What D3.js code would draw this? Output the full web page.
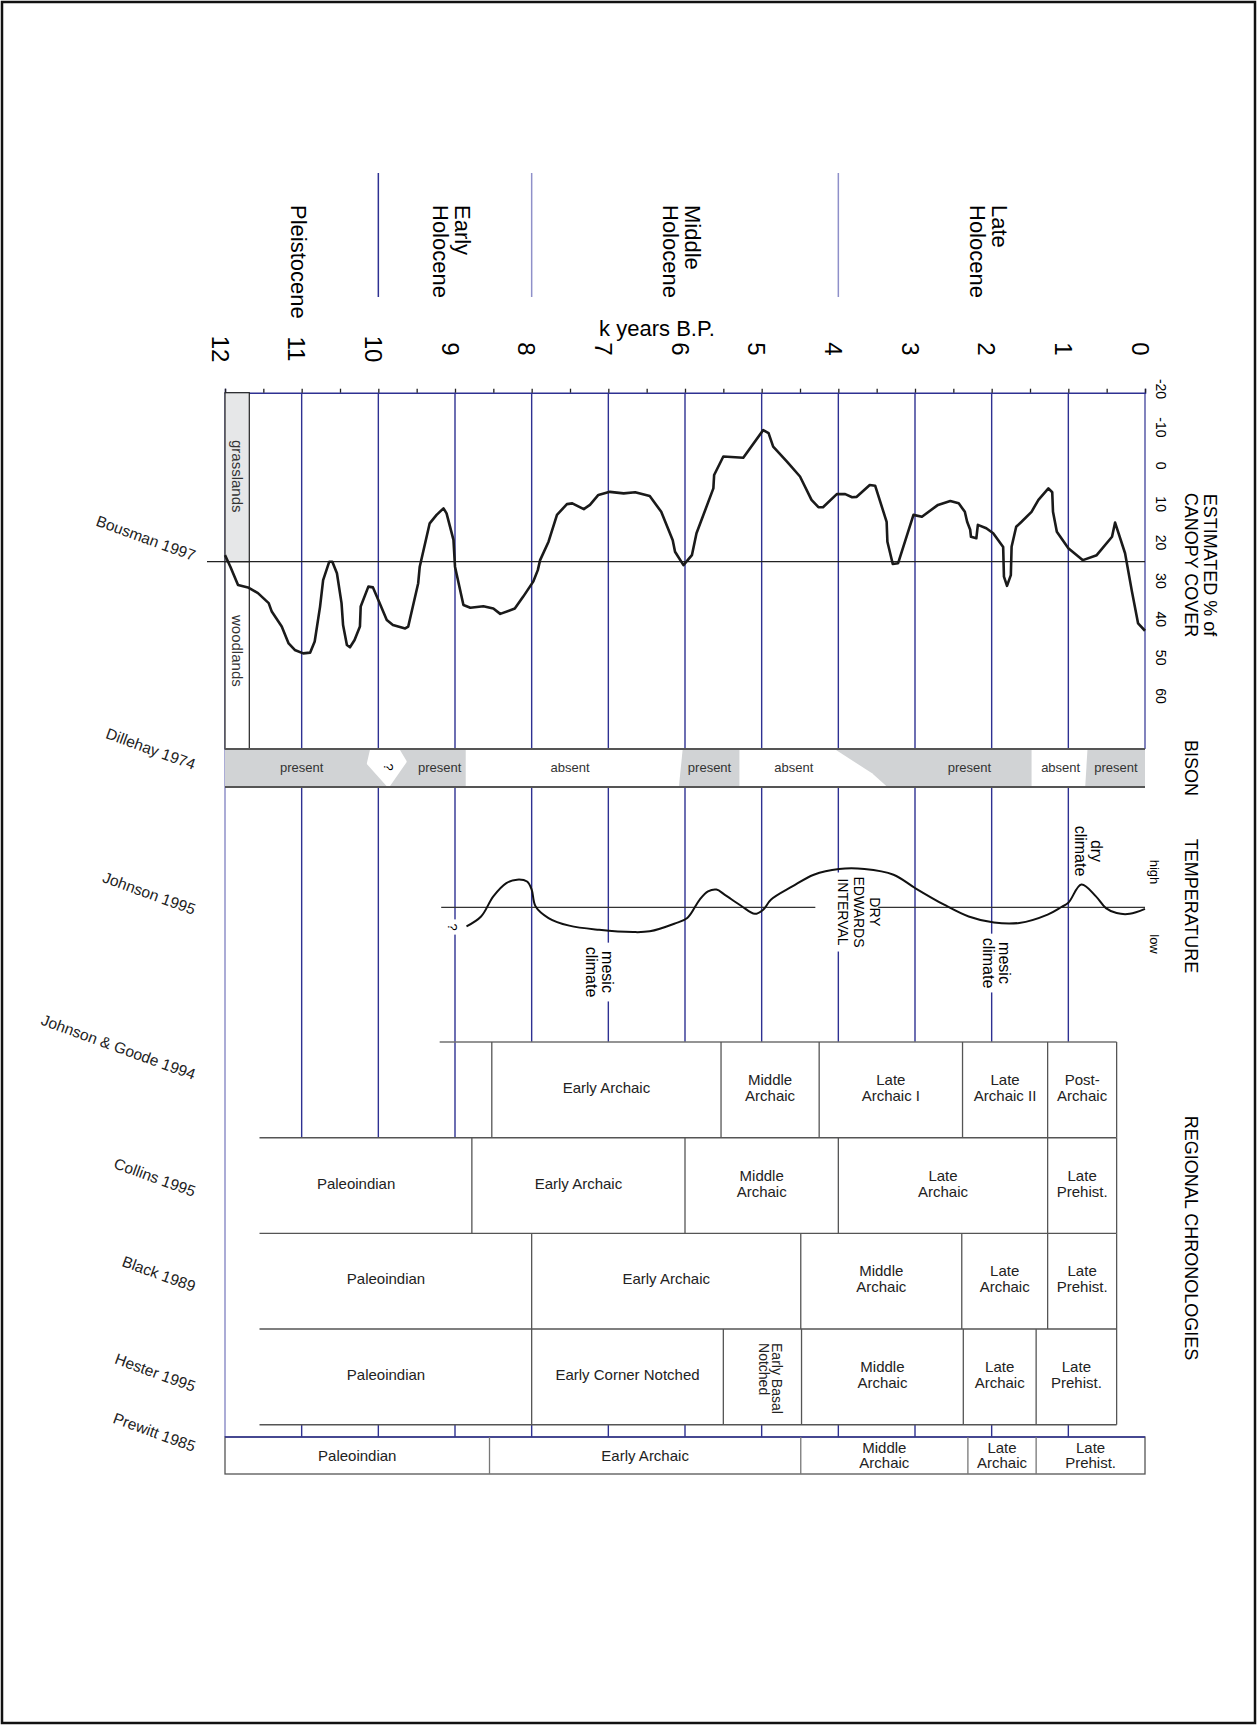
<!DOCTYPE html>
<html>
<head>
<meta charset="utf-8">
<script src="https://cdn.jsdelivr.net/npm/d3@7"></script>
<style>
  body { margin: 0; background: #fff; }
  svg { display: block; font-family: "Liberation Sans", Arial, sans-serif; }
</style>
</head>
<body>
<div id="chart"></div>
<script>
// ---- data ----
const periods = ["Pleistocene", "Early\nHolocene", "Middle\nHolocene", "Late\nHolocene"];
const periodBounds = [12, 10, 8, 4, 0];
const yearLabels = d3.range(0, 13);
const canopyTicks = [-20, -10, 0, 10, 20, 30, 40, 50, 60];

// Bousman 1997, estimated % canopy cover
const canopyYears = [12.0, 11.93, 11.83, 11.70, 11.57, 11.43, 11.39, 11.26, 11.17, 11.09, 10.98, 10.89, 10.83, 10.76, 10.72, 10.64, 10.60, 10.54, 10.48, 10.46, 10.41, 10.37, 10.31, 10.24, 10.23, 10.13, 10.07, 10.00, 9.89, 9.81, 9.65, 9.61, 9.48, 9.46, 9.33, 9.24, 9.15, 9.11, 9.02, 9.00, 8.89, 8.80, 8.63, 8.50, 8.41, 8.22, 8.11, 7.98, 7.92, 7.89, 7.78, 7.67, 7.54, 7.47, 7.32, 7.24, 7.13, 6.98, 6.80, 6.65, 6.46, 6.31, 6.16, 6.13, 6.02, 5.91, 5.85, 5.63, 5.62, 5.50, 5.24, 4.98, 4.91, 4.85, 4.67, 4.50, 4.35, 4.26, 4.20, 4.02, 3.91, 3.82, 3.76, 3.59, 3.52, 3.37, 3.36, 3.29, 3.22, 3.02, 2.91, 2.70, 2.54, 2.43, 2.35, 2.32, 2.28, 2.27, 2.20, 2.18, 2.07, 1.98, 1.85, 1.84, 1.80, 1.75, 1.74, 1.68, 1.61, 1.48, 1.39, 1.26, 1.21, 1.20, 1.15, 1.00, 0.81, 0.63, 0.43, 0.39, 0.26, 0.17, 0.09, 0.00];
const canopyValues = [23.3, 26.3, 31.1, 31.7, 33.2, 35.8, 38.0, 41.9, 46.3, 48.0, 48.9, 48.7, 45.8, 36.7, 29.8, 25.0, 25.0, 28.0, 35.8, 41.5, 46.7, 47.3, 45.4, 41.9, 36.7, 31.5, 31.7, 35.0, 40.2, 41.5, 42.4, 41.9, 30.6, 26.3, 15.0, 12.8, 11.1, 12.4, 19.3, 26.3, 36.3, 37.0, 36.6, 37.2, 38.6, 37.2, 34.1, 30.2, 27.2, 24.6, 19.8, 12.8, 10.0, 9.8, 11.3, 10.2, 7.6, 6.8, 7.2, 6.9, 7.9, 12.0, 19.4, 22.4, 25.9, 23.3, 17.6, 5.9, 2.4, -2.4, -2.1, -9.3, -8.5, -5.0, -1.1, 2.8, 8.9, 10.8, 10.8, 7.4, 7.4, 8.2, 8.1, 5.0, 5.2, 14.6, 19.8, 25.6, 25.4, 12.8, 13.3, 10.2, 9.2, 9.8, 12.0, 14.6, 16.7, 18.5, 18.9, 15.4, 16.3, 17.6, 21.2, 28.9, 31.3, 28.5, 21.1, 15.9, 14.6, 12.0, 8.9, 5.9, 6.9, 12.0, 17.2, 21.5, 24.6, 23.3, 18.5, 14.8, 22.8, 32.8, 41.1, 43.0];

// Dillehay 1974, bison
const bisonLabels = ["present", "present", "absent", "present", "absent", "present", "absent", "present"];
const bisonLabelYears = [11.0, 9.2, 7.5, 5.68, 4.58, 2.29, 1.1, 0.38];
// absent zones: [year, fraction of band depth]
const bisonAbsent = [
  [[8.86, 0], [6.03, 0], [6.08, 1], [8.86, 1]],
  [[5.29, 0], [4.05, 0], [3.56, 0.64], [3.36, 1], [5.29, 1]],
  [[1.48, 0], [0.75, 0], [0.78, 1], [1.48, 1]]
];
const bisonUnknown = [[10.09, 0.03], [9.74, 0.03], [9.65, 0.33], [9.87, 0.97], [10.13, 0.38]];

// Johnson 1995, temperature (+1 high, -1 low)
const tempYears = [8.85, 8.66, 8.50, 8.33, 8.19, 8.06, 8.00, 7.95, 7.78, 7.51, 7.12, 6.68, 6.46, 6.14, 5.97, 5.81, 5.70, 5.59, 5.48, 5.26, 5.09, 4.98, 4.88, 4.60, 4.32, 3.99, 3.66, 3.28, 3.00, 2.62, 2.30, 1.97, 1.64, 1.27, 1.09, 1.00, 0.83, 0.64, 0.51, 0.37, 0.20, 0.00];
const tempValues = [-0.51, -0.25, 0.28, 0.63, 0.72, 0.67, 0.46, 0.02, -0.29, -0.49, -0.60, -0.66, -0.64, -0.44, -0.29, 0.19, 0.41, 0.46, 0.32, 0.02, -0.18, -0.07, 0.19, 0.54, 0.85, 1.00, 1.00, 0.85, 0.50, 0.06, -0.25, -0.41, -0.42, -0.20, 0.00, 0.11, 0.59, 0.28, -0.03, -0.16, -0.18, -0.05];
const climateNotes = ["?", "mesic\nclimate", "DRY\nEDWARDS\nINTERVAL", "mesic\nclimate", "dry\nclimate"];
const climateNoteYears = [9, 7, 4, 2, 1];

const sources = ["Bousman 1997", "Dillehay 1974", "Johnson 1995", "Johnson & Goode 1994", "Collins 1995", "Black 1989", "Hester 1995", "Prewitt 1985"];

// regional chronologies: period boundaries (k years B.P.) and names
const jgBreaks = [9.2, 8.52, 5.53, 4.25, 2.38, 1.27, 0.37];
const jgLabels = ["", "Early Archaic", "Middle\nArchaic", "Late\nArchaic I", "Late\nArchaic II", "Post-\nArchaic"];
const collinsBreaks = [11.55, 8.78, 6.0, 4.0, 1.27, 0.37];
const collinsLabels = ["Paleoindian", "Early Archaic", "Middle\nArchaic", "Late\nArchaic", "Late\nPrehist."];
const blackBreaks = [11.55, 8.0, 4.49, 2.39, 1.27, 0.37];
const blackLabels = ["Paleoindian", "Early Archaic", "Middle\nArchaic", "Late\nArchaic", "Late\nPrehist."];
const hesterBreaks = [11.55, 8.0, 5.5, 4.48, 2.37, 1.42, 0.37];
const hesterLabels = ["Paleoindian", "Early Corner Notched", "Early Basal\nNotched", "Middle\nArchaic", "Late\nArchaic", "Late\nPrehist."];
const prewittBreaks = [12, 8.55, 4.49, 2.31, 1.42, 0];
const prewittLabels = ["Paleoindian", "Early Archaic", "Middle\nArchaic", "Late\nArchaic", "Late\nPrehist."];

// ---- layout ----
const W = 1257, H = 1725;
const blue = "#2e3192", lav = "#8f90c9", boxLine = "#555";
const axisY = 392.7, bisonTop = 749, bisonBot = 787, tempMid = 907.3;
const prewittTop = 1437, prewittBot = 1474;

const svg = d3.select("#chart").append("svg").attr("width", W).attr("height", H);

const x = d3.scaleLinear().domain([12, 0]).range([225, 1145]);
const yCanopy = d3.scaleLinear().domain([-20, 60]).range([389, 696]);
const yTemp = d3.scaleLinear().domain([-1, 1]).range([945, 869]);
const yBison = d3.scaleLinear().domain([0, 1]).range([bisonTop, bisonBot]);
const rowScale = d3.scaleBand().domain(["jg", "collins", "black", "hester"]).range([1042, 1424.7]);

// rotated (reading downward) text, lines stacked right to left
function vtext(g, cx, cy, str, size, lh, anchor) {
  const lines = str.split("\n");
  const t = g.append("text")
    .attr("transform", `translate(${cx},${cy}) rotate(90)`)
    .attr("text-anchor", anchor || "middle")
    .attr("font-size", size);
  lines.forEach((l, i) => {
    t.append("tspan").attr("x", 0).attr("y", (i - (lines.length - 1) / 2) * lh)
      .attr("dy", "0.35em").text(l);
  });
  return t;
}
function htext(g, cx, cy, str, size, lh) {
  const lines = str.split("\n");
  const t = g.append("text").attr("text-anchor", "middle").attr("font-size", size);
  lines.forEach((l, i) => {
    t.append("tspan").attr("x", cx).attr("y", cy + (i - (lines.length - 1) / 2) * lh)
      .attr("dy", "0.35em").text(l);
  });
  return t;
}

// page frame
svg.append("rect").attr("x", 2).attr("y", 2).attr("width", W - 4).attr("height", H - 4)
  .attr("fill", "none").attr("stroke", "#111").attr("stroke-width", 2.5);

// ---- period header ----
const head = svg.append("g");
head.selectAll("line").data(periodBounds.slice(1, -1)).enter().append("line")
  .attr("x1", d => x(d)).attr("x2", d => x(d)).attr("y1", 173).attr("y2", 297)
  .attr("stroke", (d, i) => i === 0 ? blue : lav).attr("stroke-width", 1.5);
periods.forEach((p, i) => {
  const mid = (x(periodBounds[i]) + x(periodBounds[i + 1])) / 2;
  vtext(head, mid - 3, 205, p, 22, 22, "start");
});
head.append("text").attr("x", 657).attr("y", 336).attr("text-anchor", "middle")
  .attr("font-size", 22).text("k years B.P.");
yearLabels.forEach(yr => vtext(head, x(yr) - 5, 349, String(yr), 24, 24));

// ---- grid lines ----
const grid = svg.append("g");
grid.selectAll("line").data(d3.range(1, 12)).enter().append("line")
  .attr("x1", d => x(d)).attr("x2", d => x(d)).attr("y1", axisY).attr("y2", prewittTop)
  .attr("stroke", blue).attr("stroke-width", 1.4);
grid.append("line").attr("x1", x(12)).attr("x2", x(12)).attr("y1", axisY).attr("y2", prewittTop)
  .attr("stroke", lav).attr("stroke-width", 1.5);
grid.append("line").attr("x1", x(0)).attr("x2", x(0)).attr("y1", axisY).attr("y2", bisonTop)
  .attr("stroke", blue).attr("stroke-width", 1.2);

// top axis with half-year ticks
const axis = d3.axisTop(x).tickValues(d3.range(0, 12.01, 0.5)).tickSize(4).tickFormat("");
svg.append("g").attr("transform", `translate(0,${axisY})`).call(axis)
  .call(g => g.select(".domain").attr("stroke", blue).attr("stroke-width", 1.5))
  .call(g => g.selectAll(".tick line").attr("stroke", "#222").attr("stroke-width", 1.3));

// ---- canopy panel ----
const canopy = svg.append("g");
canopy.append("rect").attr("x", x(12)).attr("y", axisY).attr("width", 24.3).attr("height", yCanopy(25) - axisY)
  .attr("fill", "#e6e7e8").attr("stroke", "#222").attr("stroke-width", 1.2);
canopy.append("rect").attr("x", x(12)).attr("y", yCanopy(25)).attr("width", 24.3).attr("height", bisonTop - yCanopy(25))
  .attr("fill", "#fff").attr("stroke", "#222").attr("stroke-width", 1.2);
vtext(canopy, x(12) + 12, 440, "grasslands", 15, 15, "start").attr("fill", "#333");
vtext(canopy, x(12) + 12, 615, "woodlands", 15, 15, "start").attr("fill", "#333");
canopy.append("line").attr("x1", 207).attr("x2", x(0)).attr("y1", yCanopy(25)).attr("y2", yCanopy(25))
  .attr("stroke", "#222").attr("stroke-width", 1.2);
const canopyPts = canopyYears.map((yr, i) => [yr, canopyValues[i]]);
canopy.append("path").datum(canopyPts)
  .attr("d", d3.line().x(d => x(d[0])).y(d => yCanopy(d[1])))
  .attr("fill", "none").attr("stroke", "#1a1a1a").attr("stroke-width", 2.6)
  .attr("stroke-linejoin", "round");
canopyTicks.forEach(v => vtext(canopy, 1161, yCanopy(v), String(v), 14, 14));

// ---- bison band ----
const bison = svg.append("g");
bison.append("rect").attr("x", x(12)).attr("y", bisonTop).attr("width", x(0) - x(12))
  .attr("height", bisonBot - bisonTop).attr("fill", "#d1d3d5");
const zoneLine = d3.line().x(d => x(d[0])).y(d => yBison(d[1])).curve(d3.curveLinearClosed);
bison.selectAll("path.abs").data(bisonAbsent).enter().append("path").attr("class", "abs")
  .attr("d", zoneLine).attr("fill", "#fff");
bison.append("path").datum(bisonUnknown).attr("d", zoneLine)
  .attr("fill", "#fff").attr("stroke", "#fff").attr("stroke-width", 3).attr("stroke-linejoin", "round");
vtext(bison, x(9.87), 767, "?", 13, 13);
bisonLabels.forEach((l, i) => htext(bison, x(bisonLabelYears[i]), 767, l, 13, 13).attr("fill", "#333"));
[bisonTop, bisonBot].forEach(yy => bison.append("line").attr("x1", x(12)).attr("x2", x(0))
  .attr("y1", yy).attr("y2", yy).attr("stroke", "#555").attr("stroke-width", 2));

// ---- temperature panel ----
const temp = svg.append("g");
const noteDx = [-2, -9, 21, 5, 20], noteY = [927, 972, 912, 963, 851], noteSize = [13, 16, 14, 16, 16];
climateNotes.forEach((n, i) => {
  const t = vtext(temp, x(climateNoteYears[i]) + noteDx[i], noteY[i], n, noteSize[i], 16);
  const b = t.node().getBBox();
  temp.insert("rect", () => t.node())
    .attr("transform", t.attr("transform"))
    .attr("x", b.x - 4).attr("y", b.y - 1).attr("width", b.width + 8).attr("height", b.height + 2)
    .attr("fill", "#fff");
});
[[9.18, 4.3], [3.48, 0]].forEach(s => temp.append("line")
  .attr("x1", x(s[0])).attr("x2", x(s[1])).attr("y1", tempMid).attr("y2", tempMid)
  .attr("stroke", "#333").attr("stroke-width", 1.3));
const tempPts = tempYears.map((yr, i) => [yr, tempValues[i]]);
temp.append("path").datum(tempPts)
  .attr("d", d3.line().x(d => x(d[0])).y(d => yTemp(d[1])).curve(d3.curveCatmullRom.alpha(0.5)))
  .attr("fill", "none").attr("stroke", "#111").attr("stroke-width", 2);
vtext(temp, 1155, 872, "high", 13, 13);
vtext(temp, 1155, 944, "low", 13, 13);

// ---- regional chronologies ----
const chron = svg.append("g");
const rows = [
  ["jg", jgBreaks, jgLabels],
  ["collins", collinsBreaks, collinsLabels],
  ["black", blackBreaks, blackLabels],
  ["hester", hesterBreaks, hesterLabels]
];
rows.forEach(([key, br, labels]) => {
  const y0 = rowScale(key), y1 = y0 + rowScale.bandwidth();
  const col = key === "jg" ? "#707070" : boxLine;
  labels.forEach((l, i) => {
    if (!l) return;
    chron.append("rect").attr("x", x(br[i])).attr("y", y0)
      .attr("width", x(br[i + 1]) - x(br[i])).attr("height", y1 - y0).attr("fill", "#fff");
  });
  chron.append("line").attr("x1", x(br[0])).attr("x2", x(br[br.length - 1]))
    .attr("y1", y0).attr("y2", y0).attr("stroke", col).attr("stroke-width", 1.4);
  if (key === "hester") chron.append("line").attr("x1", x(br[0])).attr("x2", x(br[br.length - 1]))
    .attr("y1", y1).attr("y2", y1).attr("stroke", boxLine).attr("stroke-width", 1.4);
  br.slice(1).forEach(b => chron.append("line").attr("x1", x(b)).attr("x2", x(b))
    .attr("y1", y0).attr("y2", y1).attr("stroke", boxLine).attr("stroke-width", 1.3));
  labels.forEach((l, i) => {
    if (!l) return;
    // first (Paleoindian) label sits a little left of its open-ended box
    const left = (i === 0 && br[0] > 10) ? 11.8 : br[i];
    const cx = (x(left) + x(br[i + 1])) / 2, cy = (y0 + y1) / 2;
    if (l.indexOf("Basal") >= 0) vtext(chron, cx + 8, y0 + 14, l, 14, 13, "start").attr("fill", "#222");
    else htext(chron, cx, cy - 2, l, 15, 16).attr("fill", "#222");
  });
});
// Prewitt row
const pw = chron.append("g");
pw.append("rect").attr("x", x(12)).attr("y", prewittTop).attr("width", x(0) - x(12))
  .attr("height", prewittBot - prewittTop).attr("fill", "#fff").attr("stroke", boxLine).attr("stroke-width", 1.3);
pw.append("line").attr("x1", x(12)).attr("x2", x(0)).attr("y1", prewittTop).attr("y2", prewittTop)
  .attr("stroke", blue).attr("stroke-width", 1.5);
prewittBreaks.slice(1, -1).forEach(b => pw.append("line").attr("x1", x(b)).attr("x2", x(b))
  .attr("y1", prewittTop).attr("y2", prewittBot).attr("stroke", "#777").attr("stroke-width", 1.3));
prewittLabels.forEach((l, i) => {
  const cx = (x(prewittBreaks[i]) + x(prewittBreaks[i + 1])) / 2;
  htext(pw, cx, (prewittTop + prewittBot) / 2, l, 15, 15).attr("fill", "#222");
});

// ---- right-hand panel titles ----
const titles = svg.append("g");
vtext(titles, 1201, 565, "ESTIMATED % of\nCANOPY COVER", 18, 19);
vtext(titles, 1191, 768, "BISON", 18, 18);
vtext(titles, 1191, 906, "TEMPERATURE", 18, 18);
vtext(titles, 1191, 1238, "REGIONAL CHRONOLOGIES", 18, 18);

// ---- source labels (left) ----
const sourceY = [561, 770, 915, 1080, 1197, 1292, 1392, 1452];
svg.append("g").selectAll("text").data(sources).enter().append("text")
  .attr("transform", (d, i) => `translate(193,${sourceY[i]}) rotate(20)`)
  .attr("text-anchor", "end").attr("font-size", 15.5).attr("fill", "#222")
  .text(d => d);
</script>
</body>
</html>
